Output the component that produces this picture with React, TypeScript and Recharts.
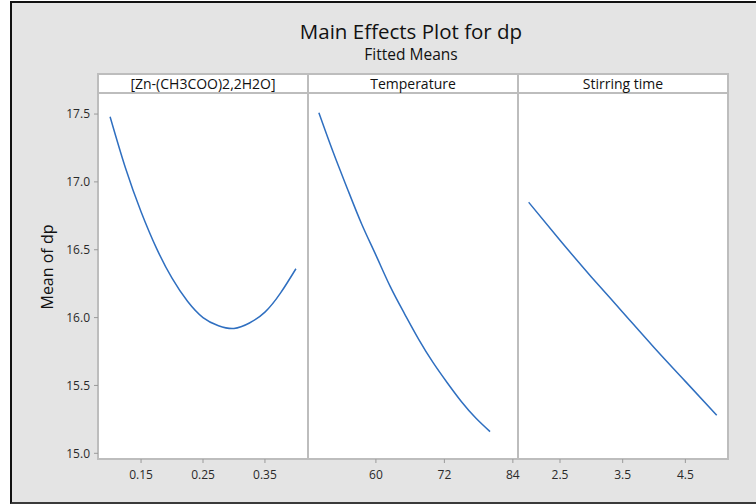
import React from 'react';
import { LineChart, Line, XAxis, YAxis } from 'recharts';

// ---- data ----
const panelTitles = ['[Zn-(CH3COO)2,2H2O]', 'Temperature', 'Stirring time'];

const zincLevels = [0.1, 0.125, 0.15, 0.175, 0.2, 0.225, 0.25, 0.275, 0.3, 0.325, 0.35, 0.375, 0.4];
const zincMeans = [17.48, 17.1, 16.78, 16.51, 16.29, 16.12, 16.0, 15.94, 15.92, 15.96, 16.04, 16.18, 16.36];

const tempLevels = [50, 52.5, 55, 57.5, 60, 62.5, 65, 67.5, 70, 72.5, 75, 77.5, 80];
const tempMeans = [17.51, 17.22, 16.95, 16.69, 16.46, 16.23, 16.03, 15.84, 15.67, 15.52, 15.38, 15.26, 15.16];

const stirLevels = [2, 2.5, 3, 3.5, 4, 4.5, 5];
const stirMeans = [16.85, 16.57, 16.3, 16.04, 15.78, 15.53, 15.28];

const yTicks = [15.0, 15.5, 16.0, 16.5, 17.0, 17.5];
const zincTicks = [0.15, 0.25, 0.35];
const tempTicks = [60, 72, 84];
const stirTicks = [2.5, 3.5, 4.5];

const yDomain: [number, number] = [14.958, 17.655];
const zincDomain: [number, number] = [0.0805, 0.4195];
const tempDomain: [number, number] = [48.1, 84.9];
const stirDomain: [number, number] = [1.83, 5.18];

const toRows = (xs: number[], ys: number[]) => xs.map((x, i) => ({ x, y: ys[i] }));

const FONT = '"Open Sans", "Noto Sans", sans-serif';
const LINE = '#2f6fc0';
const FRAME = '#bdbdbd';
const TICKLINE = '#9a9a9a';
const tickStyle = { fontSize: 12, fill: '#2a2a2a', fontFamily: FONT };

type PanelProps = {
  left: number;
  width: number;
  rows: { x: number; y: number }[];
  domain: [number, number];
  ticks: number[];
  fmt: (v: number) => string;
  showY: boolean;
};

const EXTRA = 12;

const Panel = ({ left, width, rows, domain, ticks, fmt, showY }: PanelProps) => (
  <div style={{ position: 'absolute', left, top: 92 }}>
    <LineChart
      width={width + EXTRA}
      height={407}
      data={rows}
      margin={{ top: 1, right: EXTRA, bottom: 0, left: 0 }}
    >
      <XAxis
        type="number"
        dataKey="x"
        domain={domain}
        ticks={ticks}
        interval={0}
        allowDataOverflow
        axisLine={false}
        tickLine={{ stroke: TICKLINE }}
        tickSize={4}
        tickMargin={7}
        height={40}
        tick={tickStyle}
        tickFormatter={fmt}
      />
      {showY ? (
        <YAxis
          type="number"
          domain={yDomain}
          ticks={yTicks}
          interval={0}
          allowDataOverflow
          axisLine={false}
          tickLine={{ stroke: TICKLINE }}
          tickSize={4}
          tickMargin={4}
          width={98}
          tick={tickStyle}
          tickFormatter={(v: number) => v.toFixed(1)}
        />
      ) : (
        <YAxis type="number" domain={yDomain} allowDataOverflow hide />
      )}
      <Line
        type="natural"
        dataKey="y"
        stroke={LINE}
        strokeWidth={1.5}
        dot={false}
        isAnimationActive={false}
      />
    </LineChart>
  </div>
);

export default function App() {
  const headerCenters = [203, 413, 623];
  return (
    <div
      style={{
        position: 'absolute',
        left: 0,
        top: 0,
        width: 756,
        height: 504,
        background: '#ffffff',
        overflow: 'hidden',
        fontFamily: FONT,
      }}
    >
      {/* gray outer panel */}
      <div
        style={{
          position: 'absolute',
          left: 10,
          top: 1,
          width: 746,
          height: 503,
          boxSizing: 'border-box',
          background: '#e4e4e4',
          borderLeft: '2px solid #111',
          borderTop: '2px solid #111',
          borderBottom: '2px solid #3a3a3a',
        }}
      />
      {/* titles */}
      <div
        style={{
          position: 'absolute',
          left: 211,
          top: 18,
          width: 400,
          textAlign: 'center',
          fontSize: 20.5,
          lineHeight: '26px',
          color: '#111',
        }}
      >
        Main Effects Plot for dp
      </div>
      <div
        style={{
          position: 'absolute',
          left: 211,
          top: 44,
          width: 400,
          textAlign: 'center',
          fontSize: 15.5,
          lineHeight: '20px',
          color: '#111',
        }}
      >
        Fitted Means
      </div>
      {/* white plotting frame */}
      <div
        style={{
          position: 'absolute',
          left: 97,
          top: 73,
          width: 632,
          height: 387,
          boxSizing: 'border-box',
          background: '#fff',
          border: `2px solid ${FRAME}`,
        }}
      />
      <div style={{ position: 'absolute', left: 97, top: 92, width: 632, height: 2, background: FRAME }} />
      <div style={{ position: 'absolute', left: 307, top: 73, width: 2, height: 387, background: FRAME }} />
      <div style={{ position: 'absolute', left: 517, top: 73, width: 2, height: 387, background: FRAME }} />
      {/* panel headers */}
      {panelTitles.map((t, i) => (
        <div
          key={t}
          style={{
            position: 'absolute',
            left: headerCenters[i] - 100,
            top: 75,
            width: 200,
            textAlign: 'center',
            fontSize: 14,
            lineHeight: '18px',
            color: '#111',
          }}
        >
          {t}
        </div>
      ))}
      {/* y label */}
      <div
        style={{
          position: 'absolute',
          left: 47 - 70,
          top: 267 - 11,
          width: 140,
          height: 22,
          lineHeight: '22px',
          textAlign: 'center',
          fontSize: 16,
          fontWeight: 500,
          color: '#111',
          transform: 'rotate(-90deg)',
        }}
      >
        Mean of dp
      </div>
      <Panel
        left={0}
        width={308}
        rows={toRows(zincLevels, zincMeans)}
        domain={zincDomain}
        ticks={zincTicks}
        fmt={(v) => v.toFixed(2)}
        showY
      />
      <Panel
        left={308}
        width={210}
        rows={toRows(tempLevels, tempMeans)}
        domain={tempDomain}
        ticks={tempTicks}
        fmt={(v) => String(v)}
        showY={false}
      />
      <Panel
        left={518}
        width={210}
        rows={toRows(stirLevels, stirMeans)}
        domain={stirDomain}
        ticks={stirTicks}
        fmt={(v) => v.toFixed(1)}
        showY={false}
      />
    </div>
  );
}
